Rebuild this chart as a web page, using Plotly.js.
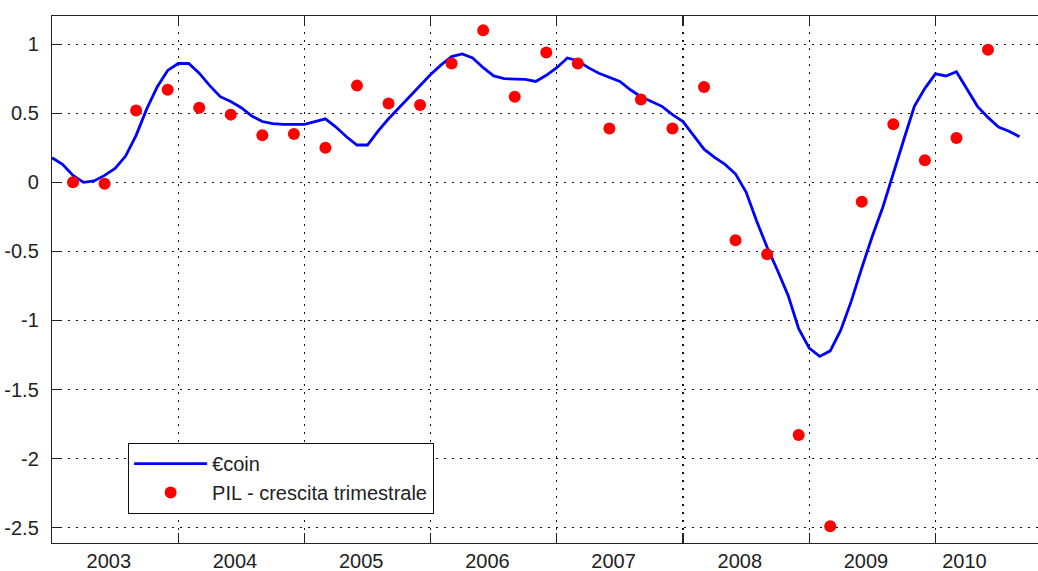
<!DOCTYPE html>
<html>
<head>
<meta charset="utf-8">
<script src="https://cdn.plot.ly/plotly-3.0.1.min.js"></script>
<style>html,body{margin:0;padding:0;background:#fff;}#chart{width:1038px;height:571px;}</style>
</head>
<body>
<div id="chart"></div>
<script>
// €coin monthly values, Jan 2003 – Sep 2010
var startYear = 2003;
var ecoin = [
  0.178, 0.13, 0.05, 0.0, 0.01, 0.05, 0.10, 0.19, 0.34, 0.53, 0.69, 0.81,
  0.86, 0.86, 0.79, 0.70, 0.62, 0.585, 0.54, 0.48, 0.44, 0.425, 0.42, 0.42,
  0.42, 0.44, 0.46, 0.40, 0.33, 0.27, 0.27, 0.37, 0.46, 0.54, 0.62, 0.70,
  0.78, 0.85, 0.91, 0.93, 0.90, 0.83, 0.77, 0.75, 0.75, 0.745, 0.73, 0.775,
  0.83, 0.90, 0.88, 0.83, 0.79, 0.76, 0.73, 0.67, 0.62, 0.585, 0.55, 0.49,
  0.44, 0.34, 0.24, 0.18, 0.13, 0.06, -0.07, -0.28, -0.47, -0.64, -0.82, -1.06,
  -1.20, -1.26, -1.22, -1.07, -0.86, -0.62, -0.39, -0.18, 0.07, 0.31, 0.55, 0.68,
  0.785, 0.77, 0.80, 0.68, 0.55, 0.47, 0.40, 0.37, 0.33
];
// PIL quarterly growth, 2003Q1 – 2010Q2 (plotted at the last month of each quarter)
var pil = [
  0.00, -0.01, 0.52, 0.67,
  0.54, 0.49, 0.34, 0.35,
  0.25, 0.70, 0.57, 0.56,
  0.86, 1.10, 0.62, 0.94,
  0.86, 0.39, 0.60, 0.39,
  0.69, -0.42, -0.52, -1.83,
  -2.49, -0.14, 0.42, 0.16,
  0.32, 0.96
];
var yearTicks = [2004, 2005, 2006, 2007, 2008, 2009, 2010];
var yearLabels = ['2003', '2004', '2005', '2006', '2007', '2008', '2009', '2010'];
var yearLabelPos = [2003.45, 2004.45, 2005.45, 2006.45, 2007.45, 2008.45, 2009.45, 2010.23];
var yTickVals = [1, 0.5, 0, -0.5, -1, -1.5, -2, -2.5];
var yTickText = ['1', '0.5', '0', '-0.5', '-1', '-1.5', '-2', '-2.5'];

var xMonth = ecoin.map(function (v, k) { return startYear + k / 12; });
var xQuarter = pil.map(function (v, i) { return startYear + (2 + 3 * i) / 12; });

var font = {family: 'Liberation Sans, Arial, sans-serif', size: 20, color: '#222'};
var xRange = [2003.0, 2010.813];

var traces = [
  {x: xMonth, y: ecoin, type: 'scatter', mode: 'lines', name: '€coin',
   line: {color: '#0000ff', width: 2.8}, xaxis: 'x', yaxis: 'y'},
  {x: xQuarter, y: pil, type: 'scatter', mode: 'markers', name: 'PIL - crescita trimestrale',
   marker: {color: '#ff0000', size: 12}, xaxis: 'x2', yaxis: 'y'}
];

var layout = {
  width: 1038, height: 571,
  margin: {l: 52, r: 0, t: 16, b: 28},
  paper_bgcolor: '#fff', plot_bgcolor: '#fff',
  font: font,
  showlegend: true,
  legend: {x: 0.077, y: 0.19, xanchor: 'left', yanchor: 'top',
           bgcolor: '#fff', bordercolor: '#111', borderwidth: 1.2,
           font: font, itemwidth: 73, tracegroupgap: 0},
  xaxis: {range: xRange, tickvals: yearTicks, ticktext: yearTicks.map(function(){return '';}),
          ticks: 'inside', ticklen: 10, tickcolor: '#222', tickwidth: 1.2,
          showgrid: true, gridcolor: '#111', gridwidth: 1.2, griddash: '1.5px,6.5px',
          showline: true, linecolor: '#222', linewidth: 1.2, mirror: 'ticks',
          zeroline: false, fixedrange: true},
  xaxis2: {range: xRange, overlaying: 'x', anchor: 'y', side: 'bottom',
           tickvals: yearLabelPos, ticktext: yearLabels, ticks: '',
           showgrid: false, showline: false, zeroline: false,
           tickfont: font, ticklabelstandoff: 4},
  yaxis: {range: [-2.611, 1.204], tickvals: yTickVals, ticktext: yTickText,
          ticks: 'inside', ticklen: 9, tickcolor: '#222', tickwidth: 1.2,
          showgrid: true, gridcolor: '#111', gridwidth: 1.2, griddash: '1.5px,6.5px',
          showline: true, linecolor: '#222', linewidth: 1.2, mirror: false,
          zeroline: false, tickfont: font, ticklabelstandoff: 8}
};

Plotly.newPlot('chart', traces, layout, {displayModeBar: false, staticPlot: true});
</script>
</body>
</html>
